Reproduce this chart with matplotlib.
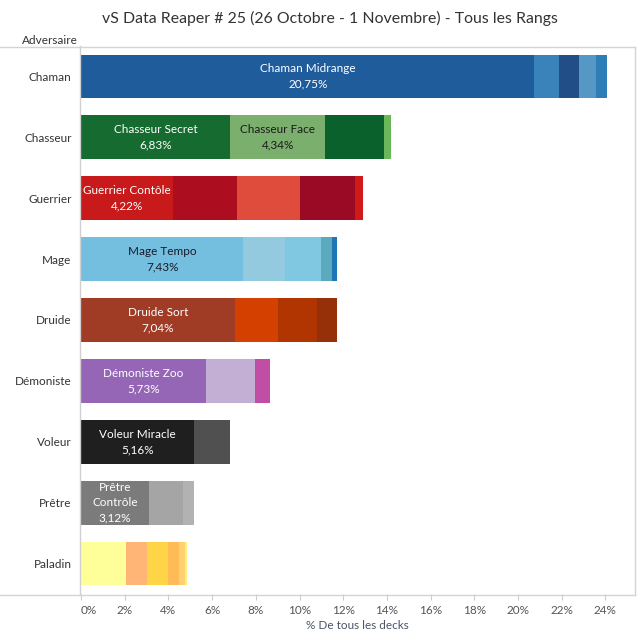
import matplotlib
matplotlib.use("Agg")
import matplotlib.pyplot as plt
from matplotlib.lines import Line2D
import numpy as np

plt.rcParams['font.family'] = ['Lato', 'DejaVu Sans']

classes = ["Chaman", "Chasseur", "Guerrier", "Mage", "Druide",
           "Démoniste", "Voleur", "Prêtre", "Paladin"]

chaman = [20.75, 1.14, 0.92, 0.78, 0.50]
chasseur = [6.83, 4.34, 2.70, 0.32]
guerrier = [4.22, 2.93, 2.88, 2.52, 0.35]
mage = [7.43, 1.92, 1.65, 0.50, 0.23]
druide = [7.04, 1.97, 1.77, 0.93]
demoniste = [5.73, 2.24, 0.69]
voleur = [5.16, 1.65]
pretre = [3.12, 1.56, 0.50]
paladin = [2.06, 0.96, 0.96, 0.50, 0.27, 0.08]

segments = [chaman, chasseur, guerrier, mage, druide, demoniste, voleur, pretre, paladin]

deck_names = [
    ["Chaman Midrange"],
    ["Chasseur Secret", "Chasseur Face"],
    ["Guerrier Contôle"],
    ["Mage Tempo"],
    ["Druide Sort"],
    ["Démoniste Zoo"],
    ["Voleur Miracle"],
    ["Prêtre\nContrôle"],
    [],
]

colors = [
    ["#1f5c9c", "#3982ba", "#214e86", "#5597c5", "#2d7db7"],
    ["#156b30", "#7aaf6e", "#0b612c", "#6ab85a"],
    ["#c8191b", "#ad0e1f", "#e04c3c", "#9b0a25", "#d01a1a"],
    ["#74bfdf", "#93cadf", "#80c7e2", "#5aa9bd", "#1f76b4"],
    ["#a03b26", "#d44000", "#b03500", "#963008"],
    ["#9466b5", "#c4afd4", "#c04ea5"],
    ["#1f1f1f", "#505050"],
    ["#7b7b7b", "#a5a5a5", "#b2b2b2"],
    ["#ffff99", "#ffb575", "#ffd447", "#ffbb55", "#ffd170", "#ffee80"],
]

label_colors = [
    ["white"],
    ["white", "#1a1a1a"],
    ["white"],
    ["#1a1a2a"],
    ["white"],
    ["white"],
    ["white"],
    ["white"],
    [],
]

xticks = list(range(0, 25, 2))
xtick_labels = [f"{t}%" for t in xticks]

W, H = 642, 638
fig = plt.figure(figsize=(W / 100, H / 100), dpi=100)
ax_l, ax_r, ax_t, ax_b = 80, 635, 46, 594
ax = fig.add_axes([ax_l / W, 1 - ax_b / H, (ax_r - ax_l) / W, (ax_b - ax_t) / H])

px_per = 21.85
xmin = -1.0 / px_per
xmax = xmin + (ax_r - ax_l) / px_per
ax.set_xlim(xmin, xmax)
ax.set_ylim(len(classes) - 0.5, -0.5)

for i, segs in enumerate(segments):
    left = 0.0
    for j, v in enumerate(segs):
        ax.barh(i, v, left=left, height=0.72, color=colors[i][j], linewidth=0)
        if j < len(deck_names[i]):
            txt = deck_names[i][j] + "\n" + f"{v:.2f}".replace(".", ",") + "%"
            ax.text(left + v / 2, i, txt, ha="center", va="center",
                    fontsize=8.5, color=label_colors[i][j], linespacing=1.5)
        left += v

ax.set_yticks(range(len(classes)))
ax.set_yticklabels(classes, fontsize=8.5, color="#333333")
ax.tick_params(axis="y", length=0, pad=6)

ax.set_xticks(xticks)
ax.set_xticklabels(xtick_labels, fontsize=8.5, color="#555555")
ax.tick_params(axis="x", length=4, color="#cccccc", pad=4)
lbl0 = ax.get_xticklabels()[0]
lbl0.set_horizontalalignment("left")

for s in ["top", "right", "bottom"]:
    ax.spines[s].set_visible(False)
ax.spines["left"].set_color("#d0d0d0")
ax.spines["left"].set_linewidth(1)

ax.set_xlabel("% De tous les decks", fontsize=8.5, color="#4a5566", labelpad=3)

def hline(y, x0, x1):
    fig.add_artist(Line2D([x0 / W, x1 / W], [1 - y / H, 1 - y / H],
                          color="#d4d4d4", linewidth=1))

def vline(x, y0, y1):
    fig.add_artist(Line2D([x / W, x / W], [1 - y0 / H, 1 - y1 / H],
                          color="#d4d4d4", linewidth=1))

hline(46.5, 0, 635)
hline(594.5, 0, 635)
vline(634.5, 46.5, 594.5)

fig.text(330 / W, 1 - 18 / H, "vS Data Reaper # 25 (26 Octobre - 1 Novembre) - Tous les Rangs",
         ha="center", va="center", fontsize=11.4, color="#333333")
fig.text(22 / W, 1 - 40 / H, "Adversaire", ha="left", va="center", fontsize=8.5, color="#333333")

fig.savefig("out.png", dpi=100, facecolor="white")
